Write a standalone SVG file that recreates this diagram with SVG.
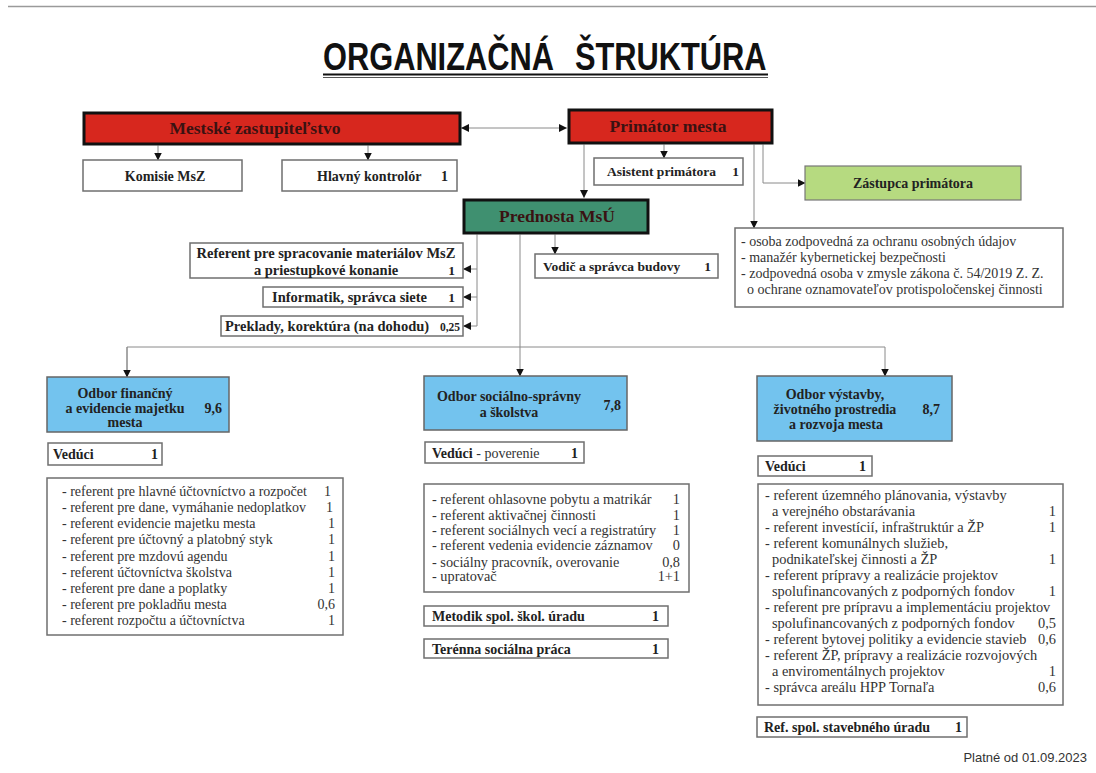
<svg xmlns="http://www.w3.org/2000/svg" width="1096" height="773" viewBox="0 0 1096 773">
<style>
.bg{fill:#fff}
.box{fill:#fff;stroke:#6f6f6f;stroke-width:1.5}
.red{fill:#D7271E;stroke:#111;stroke-width:3}
.green{fill:#3F9070;stroke:#111;stroke-width:3}
.lgreen{fill:#B6DA80;stroke:#777;stroke-width:1.2}
.blue{fill:#73C3EE;stroke:#666;stroke-width:1.5}
.b{font-family:"Liberation Serif",serif;font-weight:bold;fill:#222}
.big{font-size:17.5px;fill:#3a1212}
.m{font-size:14px}
.s{font-size:13.5px}
.sl{font-size:14.5px}
.r{font-family:"Liberation Serif",serif;font-size:14px;fill:#333}
.r2{font-size:14.3px}
.r3{font-size:14.4px}
.end{text-anchor:end}
.mid{text-anchor:middle}
.conn line,.conn path{stroke:#8a8a8a;stroke-width:1;fill:none}
.tt{font-family:"Liberation Sans",Arial,sans-serif;font-weight:bold;font-size:39px;fill:#111}
</style>
<defs>
<marker id="ah" markerUnits="userSpaceOnUse" markerWidth="8" markerHeight="8" refX="7.5" refY="4" orient="auto-start-reverse">
<path d="M0,0 L8,4 L0,8 z" fill="#111"/>
</marker>
</defs>
<rect class="bg" x="0" y="0" width="1096" height="773"/>
<line x1="8" y1="6.5" x2="1096" y2="6.5" stroke="#9a9a9a" stroke-width="1.5"/>
<g id="title">
<text class="tt" transform="translate(323 70) scale(0.79 1)"><tspan x="0">ORGANIZAČNÁ</tspan><tspan x="319">ŠTRUKTÚRA</tspan></text>
<line x1="323" y1="74.5" x2="768" y2="74.5" stroke="#111" stroke-width="2.2"/>
<line x1="323" y1="77.5" x2="768" y2="77.5" stroke="#555" stroke-width="1"/>
</g>
<g class="conn" id="connectors">
<line x1="461.5" y1="128" x2="566.5" y2="128" marker-start="url(#ah)" marker-end="url(#ah)"/>
<line x1="158" y1="145.5" x2="158" y2="160" marker-end="url(#ah)"/>
<line x1="368" y1="145.5" x2="368" y2="160" marker-end="url(#ah)"/>
<line x1="664" y1="144.5" x2="664" y2="158" marker-end="url(#ah)"/>
<line x1="584" y1="144.5" x2="584" y2="197.5" marker-end="url(#ah)"/>
<path d="M763,144.5 V183 H805" marker-end="url(#ah)"/>
<line x1="754" y1="144.5" x2="754" y2="228" marker-end="url(#ah)"/>
<line x1="477" y1="234.5" x2="477" y2="326"/>
<line x1="477" y1="269" x2="463.5" y2="269" marker-end="url(#ah)"/>
<line x1="477" y1="297" x2="463.5" y2="297" marker-end="url(#ah)"/>
<line x1="477" y1="326" x2="463.5" y2="326" marker-end="url(#ah)"/>
<line x1="555" y1="234.5" x2="555" y2="254" marker-end="url(#ah)"/>
<line x1="520" y1="234.5" x2="520" y2="376" marker-end="url(#ah)"/>
<path d="M127,377 V347 H885 V376" marker-end="url(#ah)"/>
<line x1="127" y1="347" x2="127" y2="377" marker-end="url(#ah)"/>
</g>
<g id="msz">
<rect class="red" x="84" y="113" width="376" height="31"/>
<text class="b big mid" x="255" y="134">Mestské zastupiteľstvo</text>
</g>
<g id="primator">
<rect class="red" x="569" y="110" width="203" height="33"/>
<text class="b big mid" x="668" y="132">Primátor mesta</text>
</g>
<g id="komisie">
<rect class="box" x="83" y="160" width="159" height="31"/>
<text class="b m mid" x="165" y="181">Komisie MsZ</text>
</g>
<g id="kontrolor">
<rect class="box" x="282" y="160" width="175" height="31"/>
<text class="b m" x="317" y="181">Hlavný kontrolór</text>
<text class="b m end" x="448" y="181">1</text>
</g>
<g id="asistent">
<rect class="box" x="594" y="158" width="149" height="27"/>
<text class="b s" x="607" y="176">Asistent primátora</text>
<text class="b s end" x="739" y="176">1</text>
</g>
<g id="zastupca">
<rect class="lgreen" x="805" y="166" width="216" height="34"/>
<text class="b m mid" x="913" y="188">Zástupca primátora</text>
</g>
<g id="osoby">
<rect class="box" x="735" y="228" width="328" height="79"/>
<text class="r" x="741" y="246">- osoba zodpovedná za ochranu osobných údajov</text>
<text class="r" x="741" y="262">- manažér kybernetickej bezpečnosti</text>
<text class="r" x="741" y="278">- zodpovedná osoba v zmysle zákona č. 54/2019 Z. Z.</text>
<text class="r" x="747" y="294">o ochrane oznamovateľov protispoločenskej činnosti</text>
</g>
<g id="prednosta">
<rect class="green" x="464" y="200" width="184" height="33"/>
<text class="b big mid" x="557" y="222">Prednosta MsÚ</text>
</g>
<g id="referent">
<rect class="box" x="190" y="243" width="273" height="35"/>
<text class="b sl mid" x="326" y="258">Referent pre spracovanie materiálov MsZ</text>
<text class="b sl mid" x="326" y="275">a priestupkové konanie</text>
<text class="b s end" x="455" y="275">1</text>
</g>
<g id="informatik">
<rect class="box" x="263" y="287" width="200" height="20"/>
<text class="b sl" x="272" y="302">Informatik, správca siete</text>
<text class="b s end" x="455" y="302">1</text>
</g>
<g id="preklady">
<rect class="box" x="221" y="316" width="242" height="20"/>
<text class="b sl" x="225" y="331">Preklady, korektúra (na dohodu)</text>
<text class="b end" font-size="11.5" x="460" y="331">0,25</text>
</g>
<g id="vodic">
<rect class="box" x="535" y="254" width="183" height="24"/>
<text class="b s" x="543" y="271">Vodič a správca budovy</text>
<text class="b s end" x="711" y="271">1</text>
</g>
<g id="odbor-financny">
<rect class="blue" x="47" y="377" width="182" height="55"/>
<text class="b m mid" x="125" y="398">Odbor finančný</text>
<text class="b m mid" x="125" y="413">a evidencie majetku</text>
<text class="b m mid" x="125" y="427">mesta</text>
<text class="b m end" x="222" y="413">9,6</text>
</g>
<g id="veduci-1">
<rect class="box" x="48" y="443" width="114" height="22"/>
<text class="b m" x="53" y="459">Vedúci</text>
<text class="b m end" x="158" y="459">1</text>
</g>
<g id="list-1">
<rect class="box" x="47" y="478" width="296" height="157"/>
<text class="r" x="62" y="496">- referent pre hlavné účtovníctvo a rozpočet</text><text class="r end" x="331" y="496">1</text>
<text class="r" x="62" y="512">- referent pre dane, vymáhanie nedoplatkov</text><text class="r end" x="333" y="512">1</text>
<text class="r" x="62" y="528">- referent evidencie majetku mesta</text><text class="r end" x="335" y="528">1</text>
<text class="r" x="62" y="544">- referent pre účtovný a platobný styk</text><text class="r end" x="335" y="544">1</text>
<text class="r" x="62" y="561">- referent pre mzdovú agendu</text><text class="r end" x="335" y="561">1</text>
<text class="r" x="62" y="577">- referent účtovníctva školstva</text><text class="r end" x="335" y="577">1</text>
<text class="r" x="62" y="593">- referent pre dane a poplatky</text><text class="r end" x="335" y="593">1</text>
<text class="r" x="62" y="609">- referent pre pokladňu mesta</text><text class="r end" x="335" y="609">0,6</text>
<text class="r" x="62" y="625">- referent rozpočtu a účtovníctva</text><text class="r end" x="335" y="625">1</text>
</g>
<g id="odbor-socialny">
<rect class="blue" x="424" y="376" width="203" height="54"/>
<text class="b m mid" x="509" y="401">Odbor sociálno-správny</text>
<text class="b m mid" x="509" y="417">a školstva</text>
<text class="b m end" x="621" y="410">7,8</text>
</g>
<g id="veduci-2">
<rect class="box" x="425" y="442" width="159" height="21"/>
<text class="b m" x="432" y="458">Vedúci<tspan font-weight="normal" fill="#333"> - poverenie</tspan></text>
<text class="b m end" x="578" y="458">1</text>
</g>
<g id="list-2">
<rect class="box" x="424" y="484" width="265" height="108"/>
<text class="r r2" x="432" y="504">- referent ohlasovne pobytu a matrikár</text><text class="r r2 end" x="680" y="504">1</text>
<text class="r r2" x="432" y="520">- referent aktivačnej činnosti</text><text class="r r2 end" x="680" y="520">1</text>
<text class="r r2" x="432" y="535">- referent sociálnych vecí a registratúry</text><text class="r r2 end" x="680" y="535">1</text>
<text class="r r2" x="432" y="550">- referent vedenia evidencie záznamov</text><text class="r r2 end" x="680" y="550">0</text>
<text class="r r2" x="432" y="567">- sociálny pracovník, overovanie</text><text class="r r2 end" x="680" y="567">0,8</text>
<text class="r r2" x="432" y="581">- upratovač</text><text class="r r2 end" x="680" y="581">1+1</text>
</g>
<g id="metodik">
<rect class="box" x="424" y="606" width="244" height="20"/>
<text class="b m" x="432" y="621">Metodik spol. škol. úradu</text>
<text class="b m end" x="659" y="621">1</text>
</g>
<g id="terenna">
<rect class="box" x="424" y="639" width="244" height="19"/>
<text class="b m" x="432" y="654">Terénna sociálna práca</text>
<text class="b m end" x="659" y="654">1</text>
</g>
<g id="odbor-vystavby">
<rect class="blue" x="757" y="376" width="195" height="65"/>
<text class="b m mid" x="835" y="399">Odbor výstavby,</text>
<text class="b m mid" x="835" y="414">životného prostredia</text>
<text class="b m mid" x="836" y="429">a rozvoja mesta</text>
<text class="b m end" x="940" y="414">8,7</text>
</g>
<g id="veduci-3">
<rect class="box" x="758" y="456" width="114" height="20"/>
<text class="b m" x="765" y="471">Vedúci</text>
<text class="b m end" x="866" y="471">1</text>
</g>
<g id="list-3">
<rect class="box" x="758" y="484" width="305" height="221"/>
<text class="r r3" x="765" y="500">- referent územného plánovania, výstavby</text>
<text class="r r3" x="772" y="516">a verejného obstarávania</text><text class="r r3 end" x="1056" y="516">1</text>
<text class="r r3" x="765" y="532">- referent investícií, infraštruktúr a ŽP</text><text class="r r3 end" x="1056" y="532">1</text>
<text class="r r3" x="765" y="548">- referent komunálnych služieb,</text>
<text class="r r3" x="772" y="564">podnikateľskej činnosti a ŽP</text><text class="r r3 end" x="1056" y="564">1</text>
<text class="r r3" x="765" y="580">- referent prípravy a realizácie projektov</text>
<text class="r r3" x="772" y="596">spolufinancovaných z podporných fondov</text><text class="r r3 end" x="1056" y="596">1</text>
<text class="r r3" x="765" y="612">- referent pre prípravu a implementáciu projektov</text>
<text class="r r3" x="772" y="628">spolufinancovaných z podporných fondov</text><text class="r r3 end" x="1056" y="628">0,5</text>
<text class="r r3" x="765" y="644">- referent bytovej politiky a evidencie stavieb</text><text class="r r3 end" x="1056" y="644">0,6</text>
<text class="r r3" x="765" y="660">- referent ŽP, prípravy a realizácie rozvojových</text>
<text class="r r3" x="772" y="676">a enviromentálnych projektov</text><text class="r r3 end" x="1056" y="676">1</text>
<text class="r r3" x="765" y="692">- správca areálu HPP Tornaľa</text><text class="r r3 end" x="1056" y="692">0,6</text>
</g>
<g id="ref-stavebny">
<rect class="box" x="757" y="717" width="210" height="20"/>
<text class="b m" x="764" y="732">Ref. spol. stavebného úradu</text>
<text class="b m end" x="962" y="732">1</text>
</g>
<text x="1087" y="762" text-anchor="end" font-family="'Liberation Sans',Arial,sans-serif" font-size="13" fill="#333">Platné od 01.09.2023</text>
</svg>
